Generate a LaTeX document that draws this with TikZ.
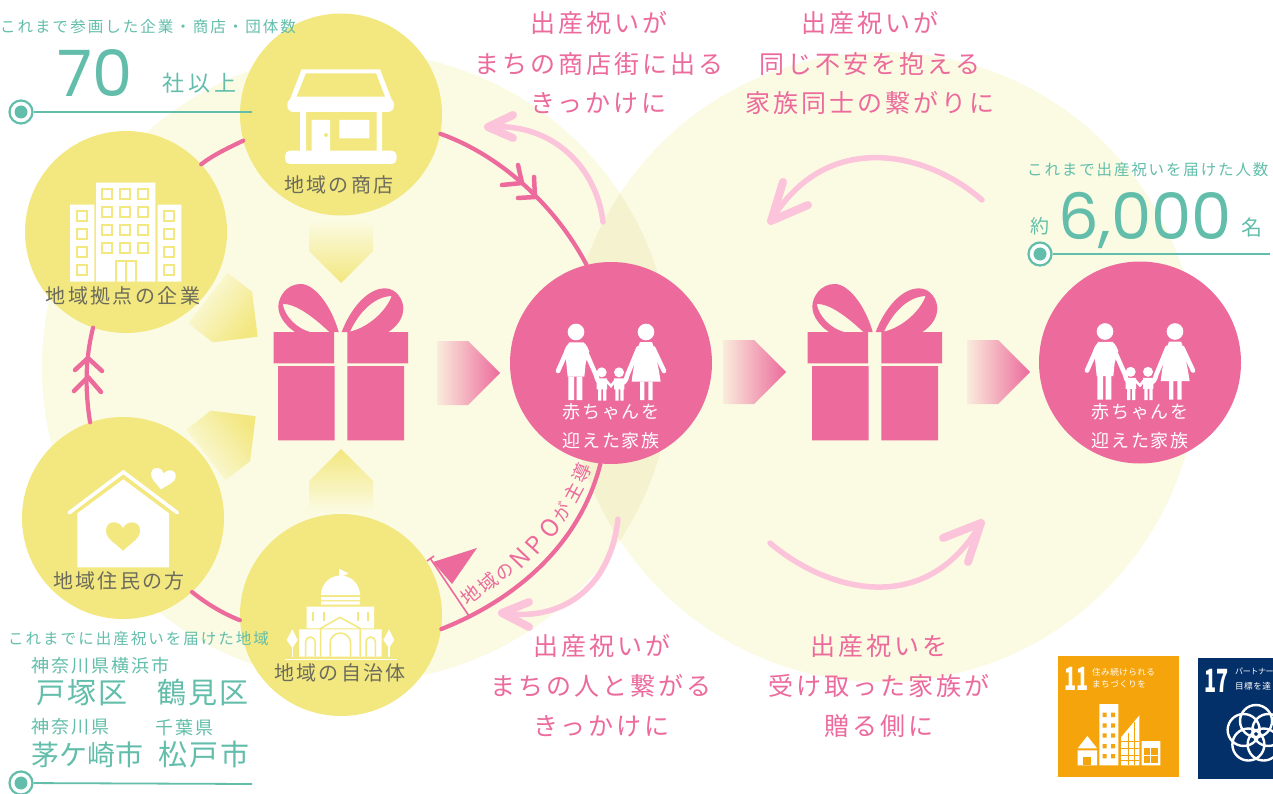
\documentclass[tikz,border=0pt]{standalone}
\usepackage{fontspec}
\setmainfont{Noto Sans CJK JP}
\newfontfamily\numfont{Poppins}
\usetikzlibrary{shapes.geometric}
\definecolor{paleY}{HTML}{FBFBE3}
\definecolor{lensY}{HTML}{F5F2CF}
\definecolor{yel}{HTML}{F3E77F}
\definecolor{pnk}{HTML}{EC6A9C}
\definecolor{lpnk}{HTML}{FBC4DA}
\definecolor{teal}{HTML}{62BEAA}
\definecolor{gry}{HTML}{6C6C5C}
\definecolor{sdgO}{HTML}{F5A40C}
\definecolor{sdgB}{HTML}{04306A}
\tikzset{
  x=1pt,y=-1pt,
  yc/.style={circle,fill=yel,minimum size=202pt,inner sep=0pt},
  pc/.style={circle,fill=pnk,minimum size=202pt,inner sep=0pt},
  ring/.style={draw=pnk,line width=4.2pt,line cap=round},
  chev/.style={draw=pnk,line width=4.5pt,line cap=round,line join=round},
  larrow/.style={draw=lpnk,line width=5.5pt,line cap=round},
  lhead/.style={draw=lpnk,line width=8pt,line cap=round,line join=round},
  tline/.style={draw=teal,line width=1.8pt},
  mark1/.style={circle,draw=teal,fill=white,line width=2.2pt,minimum size=23pt,inner sep=0pt},
  mark2/.style={circle,fill=teal,minimum size=13pt,inner sep=0pt},
}
% name, x, y, size, letter space, colour, text
\newcommand\lab[8][base]{\node[inner sep=0pt,anchor=#1,yshift={-0.36*#5pt},text=#7] (#2) at (#3,#4)
  {\fontsize{#5}{#5}\selectfont\addfontfeature{LetterSpace=#6}#8};}
\newcommand\heartp{(0,42) .. controls (-29,15) and (-51,5) .. (-51,-18) .. controls (-51,-50) and (-11,-50) .. (0,-25) .. controls (11,-50) and (51,-50) .. (51,-18) .. controls (51,5) and (29,15) .. (0,42) -- cycle}
\newcommand\gifticon[1]{%
\begin{scope}[shift={(#1,270)},scale=1/3]
 \fill[pnk] (41,186) rectangle (222,280) (262,186) rectangle (444,280) (54,288) rectangle (224,511) (262,288) rectangle (432,511);
 \fill[pnk,even odd rule] (236,186) .. controls (215,110) and (165,42) .. (122,42) .. controls (80,42) and (55,80) .. (55,110) .. controls (55,140) and (80,170) .. (105,186) -- cycle
   (68,102) .. controls (110,100) and (170,150) .. (208,186) -- (150,186) .. controls (110,175) and (75,140) .. (68,102) -- cycle;
 \fill[pnk,even odd rule] (245,186) .. controls (270,120) and (320,55) .. (375,55) .. controls (410,55) and (430,90) .. (430,115) .. controls (430,145) and (410,170) .. (385,186) -- cycle
   (270,185) .. controls (295,130) and (340,80) .. (395,78) .. controls (380,120) and (330,170) .. (270,185) -- cycle;
\end{scope}}
\newcommand\famicon[2]{%
\begin{scope}[shift={(#1,#2)},scale=1/3]
 \fill[white] (468,246) circle[radius=25] (678,246) circle[radius=25] (545,367) circle[radius=15] (597,367) circle[radius=15];
 \fill[white] (448,277) -- (490,277) .. controls (500,285) and (505,295) .. (508,305) -- (497,340) -- (493,380) -- (443,380) -- (438,330) -- (432,305) .. controls (436,295) and (440,285) .. (448,277) -- cycle;
 \fill[white] (445,380) rectangle (462,450) (470,380) rectangle (487,450);
 \draw[white,line width=4.6pt,line cap=round] (445,293) -- (414,363) (492,293) -- (528,375) .. controls (532,395) and (540,400) .. (547,400);
 \fill[white] (660,276) -- (696,276) .. controls (705,300) and (715,350) .. (722,395) -- (635,395) .. controls (640,350) and (650,300) .. (660,276) -- cycle;
 \fill[white] (660,395) rectangle (673,450) (685,395) rectangle (698,450);
 \draw[white,line width=4.6pt,line cap=round] (700,295) -- (732,363) (655,295) -- (622,375) .. controls (618,395) and (610,400) .. (600,400);
 \fill[white] (530,385) rectangle (561,418) (582,385) rectangle (613,418) (534,418) rectangle (544,452) (549,418) rectangle (559,452) (586,418) rectangle (596,452) (601,418) rectangle (611,452);
 \draw[white,line width=2.5pt] (558,392) -- (573,408) -- (585,392);
\end{scope}}
\newcommand\pentshade[6]{% base x, base y, rotation, shading angle, colour, pale end
\begin{scope}[shift={(#1,#2)},rotate=#3]
 \shade[left color=#6,right color=#5,shading angle=#4] (0,-32) -- (31,-32) -- (63,0) -- (31,32) -- (0,32) -- cycle;
\end{scope}}
\begin{document}
\begin{tikzpicture}
\useasboundingbox (0,0) rectangle (1273,794);
\fill[white] (0,0) rectangle (1273,794);
\fill[paleY] (357,367) circle[radius=315] (883,367) circle[radius=315];
\begin{scope}
 \clip (357,367) circle[radius=315];
 \fill[lensY] (883,367) circle[radius=315];
\end{scope}

% nodes
\node[yc] (store) at (341,114.5) {};
\node[yc] (company) at (126,232) {};
\node[yc] (resident) at (123,518) {};
\node[yc] (city) at (341,615) {};
\node[pc] (famA) at (611,363) {};
\node[pc] (famB) at (1140,362.5) {};

% ring
\draw[ring] (store.-11.6) .. controls (500,155) and (555,205) .. (famA.104.6);
\draw[ring] (famA.-96) .. controls (580,545) and (515,600) .. (city.-8.5);
\draw[ring] (city.183) .. controls (222,613) and (207,604) .. (resident.-47);
\draw[ring] (resident.109) .. controls (85,390) and (85,360) .. (company.-109);
\draw[ring] (company.42) .. controls (213,155) and (228,148) .. (store.195.7);
\draw[chev] (518,165) -- (522,183) -- (502,185);
\draw[chev] (534,177) -- (535,197) -- (518,198);
\draw[chev] (75,370) -- (88,358) -- (102,371);
\draw[chev] (74,391) -- (88,377) -- (101,392);

% flag
\draw[draw=pnk,line width=1.6pt] (430,558) -- (469,616);
\draw[draw=pnk,line width=1.6pt] (427,561) -- (434,556);
\fill[pnk] (433,562) -- (477,548) -- (452,584) -- cycle;
\foreach \n/\x/\y/\r/\s/\t in {a/470/595/38/19/地,b/488/583/40/19/域,c/505/572/42/18/の,d/520/558/46/24/N,e/535/545/48/24/P,f/550/528/52/24/O,g/562/512/58/18/が,h/573/493/62/19/主,i/582/473/66/19/導}{
 \node[rotate=\r,inner sep=0pt,text=pnk,font=\fontsize{\s}{\s}\selectfont] (npo\n) at (\x,\y) {\t};
}

% light arrows
\coordinate (aS) at (603,222); \coordinate (aT) at (488,127);
\draw[larrow] (aS) .. controls (597,170) and (555,122) .. (aT);
\draw[lhead] (513,115) -- (aT) -- (513,138);
\coordinate (bS) at (618,519); \coordinate (bT) at (502,613);
\draw[larrow] (bS) .. controls (610,590) and (560,622) .. (bT);
\draw[lhead] (529,602) -- (bT) -- (529,627);
\coordinate (cS) at (982,200); \coordinate (cT) at (771,221);
\draw[larrow] (cS) .. controls (925,150) and (825,130) .. (cT);
\draw[lhead] (783,182) -- (cT) -- (808,205);
\coordinate (dS) at (770,543); \coordinate (dT) at (981,523);
\draw[larrow] (dS) .. controls (825,590) and (925,620) .. (dT);
\draw[lhead] (943,538) -- (dT) -- (968,562);

% gifts
\gifticon{260}
\gifticon{794}

% gradient arrows
\pentshade{437}{373}{0}{90}{pnk}{pnk!10!paleY}
\pentshade{723}{372}{0}{90}{pnk}{pnk!10!paleY}
\pentshade{967}{372}{0}{90}{pnk}{pnk!10!paleY}
\pentshade{341}{220}{-90}{0}{yel}{paleY}
\pentshade{341}{512}{90}{180}{yel}{paleY}
\pentshade{208}{298}{-38}{52}{yel}{paleY}
\pentshade{206}{455}{38}{128}{yel}{paleY}

% store icon
\begin{scope}[scale=1/3]
 \fill[white] (900,335) rectangle (918,455) (1130,335) rectangle (1146,455) (935,360) rectangle (990,455) (1018,360) rectangle (1108,415);
 \fill[white,rounded corners=5pt] (855,452) rectangle (1190,492);
 \fill[yel] (978,405) circle[radius=6];
 \fill[white] (905,208) -- (1140,208) -- (1175,298) -- (870,298) -- cycle;
 \fill[yel] (918,220) -- (1128,220) -- (1155,290) -- (890,290) -- cycle;
 \fill[white,rounded corners=6pt] (862,295) rectangle (1182,336);
\end{scope}
% company icon
\begin{scope}[scale=1/3]
 \fill[white] (288,548) rectangle (466,845) (210,614) rectangle (283,845) (473,614) rectangle (544,845);
 \foreach \x in {307,361,415} \foreach \y in {568,622,675,728} \draw[yel,line width=1.8pt] (\x,\y) rectangle ++(30,30);
 \foreach \x in {232,493} \foreach \y in {634,688,741,794} \draw[yel,line width=1.8pt] (\x,\y) rectangle ++(30,30);
 \draw[yel,line width=1.8pt] (348,845) -- (348,783) -- (407,783) -- (407,845) (378,783) -- (378,845);
\end{scope}
% resident icon
\begin{scope}[shift={(0,410)},scale=1/3]
 \fill[white] (232,310) -- (370,208) -- (507,310) -- (507,472) -- (232,472) -- cycle;
 \draw[white,line width=3.6pt,line cap=round,line join=miter] (208,308) -- (370,186) -- (532,308);
 \begin{scope}[shift={(369,380)}] \fill[yel] \heartp; \end{scope}
 \begin{scope}[shift={(488,208)},rotate=-10,scale=.73] \fill[white] \heartp; \end{scope}
\end{scope}
% city hall icon
\begin{scope}[shift={(0,410)},scale=1/3]
 \draw[white,line width=1.5pt] (1020,478) -- (1020,522);
 \fill[white] (1020,478) -- (1046,490) -- (1020,502) -- cycle;
 \fill[white] (963,555) arc[start angle=180,end angle=360,radius=58.5] -- cycle;
 \fill[white] (963,561) rectangle (1080,570) (963,574) rectangle (1080,584) (920,590) rectangle (1122,655) (897,658) rectangle (1145,740);
 \foreach \x in {935,968,1070,1102} \fill[yel] (\x,606) rectangle ++(6,28);
 \draw[yel,line width=1.5pt] (917,740) -- (917,695) arc[start angle=180,end angle=360,radius=14] -- (945,740);
 \draw[yel,line width=1.5pt] (1098,740) -- (1098,695) arc[start angle=180,end angle=360,radius=14] -- (1126,740);
 \draw[yel,line width=1.5pt] (990,740) -- (990,700) arc[start angle=180,end angle=360,radius=31] -- (1052,740);
 \draw[yel,line width=1.5pt,line join=round] (962,740) -- (962,655) -- (1020,622) -- (1080,655) -- (1080,740);
 \fill[white] (877,658) -- (860,690) -- (877,714) -- (893,690) -- cycle (1167,658) -- (1150,690) -- (1167,714) -- (1183,690) -- cycle;
 \draw[white,line width=1.3pt] (877,700) -- (877,740) (1167,700) -- (1167,740);
 \draw[white,line width=1.5pt] (855,748) -- (1190,748);
\end{scope}
% family icons
\famicon{420}{250}
\famicon{949}{249.5}

% circle labels
\lab{tStore}{339}{185}{20}{12}{gry}{地域の商店}
\lab{tCompany}{123}{296}{20}{12}{gry}{地域拠点の企業}
\lab{tResident}{119}{581}{20}{12}{gry}{地域住民の方}
\lab{tCity}{340}{673}{20}{12}{gry}{地域の自治体}
\lab{tFamA1}{611}{412}{18}{11}{white}{赤ちゃんを}
\lab{tFamA2}{611}{441}{18}{11}{white}{迎えた家族}
\lab{tFamB1}{1140}{412}{18}{11}{white}{赤ちゃんを}
\lab{tFamB2}{1140}{441}{18}{11}{white}{迎えた家族}

% pink headings
\lab{h1a}{599}{24}{25}{12}{pnk}{出産祝いが}
\lab{h1b}{599}{65}{25}{12}{pnk}{まちの商店街に出る}
\lab{h1c}{598}{104}{25}{12}{pnk}{きっかけに}
\lab{h2a}{870}{24}{25}{12}{pnk}{出産祝いが}
\lab{h2b}{870}{65}{25}{12}{pnk}{同じ不安を抱える}
\lab{h2c}{870}{104}{25}{12}{pnk}{家族同士の繋がりに}
\lab{h3a}{602}{646}{25}{12}{pnk}{出産祝いが}
\lab{h3b}{601}{686}{25}{12}{pnk}{まちの人と繋がる}
\lab{h3c}{601}{726}{25}{12}{pnk}{きっかけに}
\lab{h4a}{879}{646}{25}{12}{pnk}{出産祝いを}
\lab{h4b}{879}{686}{25}{12}{pnk}{受け取った家族が}
\lab{h4c}{879}{726}{25}{12}{pnk}{贈る側に}

% stats top-left
\lab[base west]{s1}{0}{27}{15.5}{13}{teal}{これまで参画した企業・商店・団体数}
\node[inner sep=0pt,anchor=base,yshift=-23pt,text=teal] (s2) at (95,74) {\fontsize{64}{64}\numfont 70};
\lab[base west]{s3}{162}{84}{22}{18}{teal}{社以上}
\node[mark1] (m1) at (21,112) {};
\node[mark2] (m1i) at (21,112) {};
\coordinate (m1e) at (252,112);
\draw[tline] (m1) -- (m1e);

% stats right
\lab[base west]{s4}{1027}{170}{15.5}{12}{teal}{これまで出産祝いを届けた人数}
\lab{s5}{1040}{227}{19}{0}{teal}{約}
\node[inner sep=0pt,anchor=base,yshift=-23pt,text=teal] (s6) at (1145,217) {\fontsize{64}{64}\numfont 6,000};
\lab{s7}{1252}{228}{21}{0}{teal}{名}
\node[mark1] (m2) at (1040,254) {};
\node[mark2] (m2i) at (1040,254) {};
\coordinate (m2e) at (1270,254);
\draw[tline] (m2) -- (m2e);

% stats bottom-left
\lab[base west]{s8}{8}{639}{15.5}{13}{teal}{これまでに出産祝いを届けた地域}
\lab[base west]{s9}{31}{666}{18}{11}{teal}{神奈川県横浜市}
\lab[base west]{s10}{36}{693}{29}{7}{teal}{戸塚区}
\lab[base west]{s11}{157}{693}{29}{7}{teal}{鶴見区}
\lab[base west]{s12}{31}{727}{18}{11}{teal}{神奈川県}
\lab[base west]{s13}{155}{728}{18}{11}{teal}{千葉県}
\lab[base west]{s14}{31}{755}{28}{0}{teal}{茅ケ崎市}
\lab[base west]{s15}{158}{755}{29}{7}{teal}{松戸市}
\node[mark1] (m3) at (21,783) {};
\node[mark2] (m3i) at (21,783) {};
\coordinate (m3e) at (252,784);
\draw[tline] (m3) -- (m3e);

% SDG 11
\fill[sdgO] (1058,656) rectangle (1179,777);
\node[inner sep=0pt,anchor=base west,text=white,xscale=.62] (g1) at (1064,690) {\fontsize{32}{32}\selectfont\bfseries 11};
\lab[base west]{g1a}{1092}{672}{8.6}{5}{white}{住み続けられる}
\lab[base west]{g1b}{1092}{684}{8.6}{5}{white}{まちづくりを}
\begin{scope}[shift={(1000,640)},scale=1/3]
 \fill[white] (233,325) -- (262,288) -- (291,325) -- cycle (233,331) rectangle (291,376) (298,192) rectangle (355,376);
 \fill[sdgO] (250,350) rectangle (274,376);
 \foreach \y in {218,250,280,312,342} \fill[sdgO] (308,\y) rectangle ++(12,13) (333,\y) rectangle ++(12,13);
 \fill[white] (363,376) -- (363,292) -- (418,226) -- (418,376) -- cycle (425,303) rectangle (481,376);
 \draw[sdgO,line width=.7pt] (363,305) -- (418,305) (363,325) -- (418,325) (363,345) -- (418,345) (363,362) -- (418,362) (385,280) -- (385,376) (403,245) -- (403,376);
 \fill[sdgO] (433,325) rectangle (473,368);
 \draw[white,line width=.8pt] (425,345) -- (481,345) (452,325) -- (452,368);
\end{scope}
% SDG 17
\begin{scope}
 \clip (1198,658) rectangle (1273,779);
 \fill[sdgB] (1198,658) rectangle (1273,779);
 \foreach \a in {-90,-18,54,126,198}
   \draw[white,line width=2.4pt] (1256,734) ++(\a:13) circle[radius=16];
\end{scope}
\node[inner sep=0pt,anchor=base west,text=white,xscale=.62] (g2) at (1204,692) {\fontsize{32}{32}\selectfont\bfseries 17};
\lab[base west]{g2a}{1235}{672}{8}{-5}{white}{パートナー}
\lab[base west]{g2b}{1235}{686}{8.6}{5}{white}{目標を達}
\end{tikzpicture}
\end{document}
